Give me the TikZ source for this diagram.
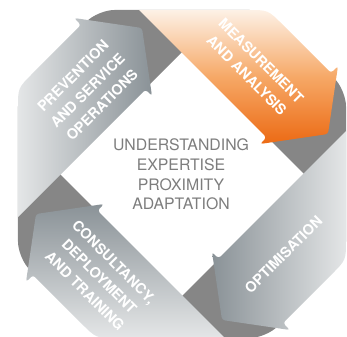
\documentclass[tikz,border=0pt]{standalone}
\usepackage{fontspec}
\setmainfont{TeX Gyre Heros}
\definecolor{foldgray}{RGB}{134,134,134}
\definecolor{arrowlight}{RGB}{228,230,231}
\definecolor{arrowdark}{RGB}{138,146,151}
\definecolor{orangepale}{RGB}{253,241,230}
\definecolor{orangemid}{RGB}{246,168,102}
\definecolor{orangedeep}{RGB}{236,106,20}
\definecolor{hubgray}{RGB}{125,125,125}

\begin{document}
\begin{tikzpicture}[x=0.03cm,y=0.03cm,
  steplabel/.style={text=white,font=\bfseries\fontsize{12.3}{17.5}\selectfont,align=center,inner sep=0pt},
  hublabel/.style={text=hubgray,font=\fontsize{13.5}{16.8}\selectfont,align=center,inner sep=0pt}]
\useasboundingbox (-182,-162) rectangle (165,174);

% Dark fold seen at the four corners
\fill[foldgray,rounded corners=14pt,even odd rule]
  (-84,164) -- (84,164) -- (164,84) -- (164,-84) -- (84,-164) -- (-84,-164) -- (-164,-84) -- (-164,84) -- cycle
  [sharp corners] (0,122) -- (122,0) -- (0,-122) -- (-122,0) -- cycle;

% Corner points of one arrow, turned four times
\foreach \ang/\nm in {0/meas,90/prev,180/cons,270/opti}{
  \begin{scope}[rotate=\ang]
    \coordinate (\nm-tin) at (-43,164);
    \coordinate (\nm-r1) at (66,164);
    \coordinate (\nm-r) at (86,164);
    \coordinate (\nm-r2) at (100,150);
    \coordinate (\nm-bout) at (149,101);
    \coordinate (\nm-wout) at (156,108);
    \coordinate (\nm-tip) at (146,40);
    \coordinate (\nm-win) at (78,30);
    \coordinate (\nm-bin) at (84.5,36.5);
  \end{scope}
}

% Measurement and analysis
\shade[top color=orangepale,bottom color=orangedeep,middle color=orangemid]
  (meas-tin) -- (meas-r1) .. controls (meas-r) .. (meas-r2) [rounded corners=2.5pt] -- (meas-bout) -- (meas-wout) -- (meas-tip) -- (meas-win) -- (meas-bin) [sharp corners] -- cycle;
% Optimisation
\shade[left color=arrowdark,right color=arrowlight]
  (opti-tin) -- (opti-r1) .. controls (opti-r) .. (opti-r2) [rounded corners=2.5pt] -- (opti-bout) -- (opti-wout) -- (opti-tip) -- (opti-win) -- (opti-bin) [sharp corners] -- cycle;
% Consultancy
\shade[top color=arrowdark,bottom color=arrowlight]
  (cons-tin) -- (cons-r1) .. controls (cons-r) .. (cons-r2) [rounded corners=2.5pt] -- (cons-bout) -- (cons-wout) -- (cons-tip) -- (cons-win) -- (cons-bin) [sharp corners] -- cycle;
% Prevention
\shade[left color=arrowlight,right color=arrowdark]
  (prev-tin) -- (prev-r1) .. controls (prev-r) .. (prev-r2) [rounded corners=2.5pt] -- (prev-bout) -- (prev-wout) -- (prev-tip) -- (prev-win) -- (prev-bin) [sharp corners] -- cycle;

% Labels on the arrows
\node[steplabel,rotate=-45] (meas-txt) at (72,106) {MEASUREMENT\\AND ANALYSIS};
\node[steplabel,rotate=45] (opti-txt) at (101.5,-80.5) {OPTIMISATION};
\node[steplabel,rotate=-45] (cons-txt) at (-82.5,-102.5) {CONSULTANCY,\\DEPLOYMENT\\AND TRAINING};
\node[steplabel,rotate=45] (prev-txt) at (-94.5,83.5) {PREVENTION\\AND SERVICE\\OPERATIONS};

% Centre
\node[hublabel] (hub) at (-1,-0.5) {UNDERSTANDING\\EXPERTISE\\PROXIMITY\\ADAPTATION};
\end{tikzpicture}
\end{document}
